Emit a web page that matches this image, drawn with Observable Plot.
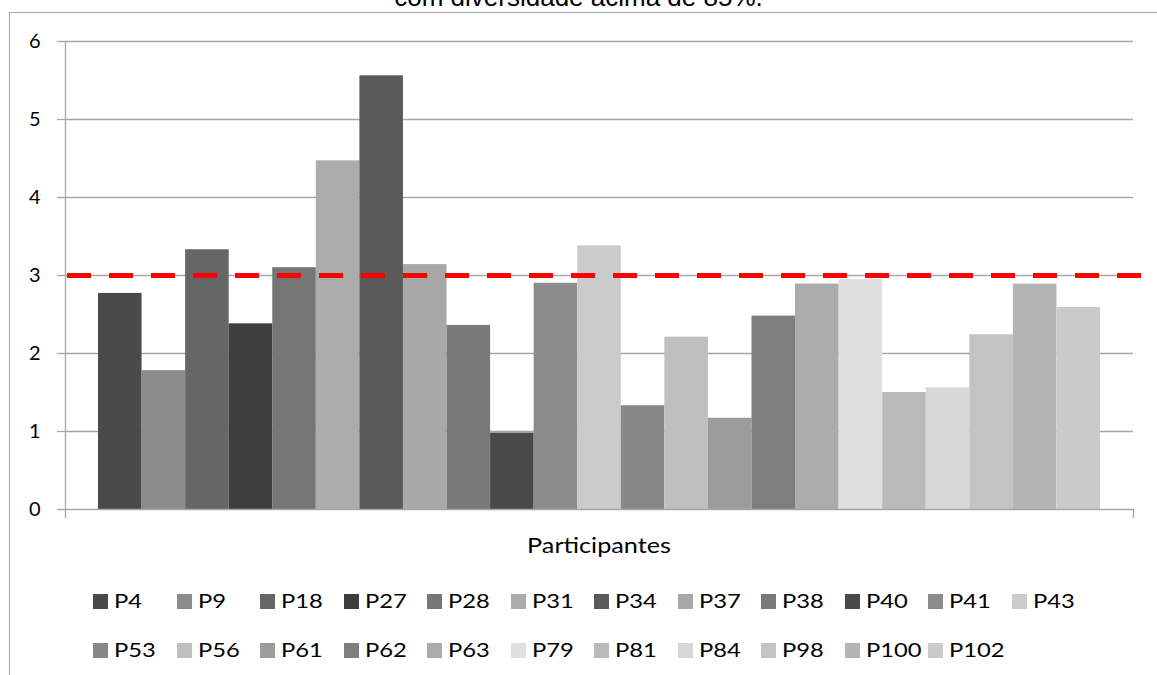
<!DOCTYPE html>
<html>
<head>
<meta charset="utf-8">
<script src="https://cdn.jsdelivr.net/npm/d3@7"></script>
<script src="https://cdn.jsdelivr.net/npm/@observablehq/plot@0.6"></script>
<style>
  html, body { margin: 0; padding: 0; background: #fff; }
  #wrap { position: relative; width: 1157px; height: 675px; overflow: hidden; font-family: Lato, "Open Sans", sans-serif; }
  #title { position: absolute; left: 0; width: 1157px; top: -18px; text-align: center; font-family: "Liberation Sans", Arial, sans-serif; font-size: 26px; line-height: 30px; color: #000; white-space: nowrap; }
  .bl { position: absolute; background: #a6a6a6; }
  #chart { position: absolute; left: 0; top: 0; }
  #xlabel { position: absolute; left: 599px; top: 533px; font-size: 21px; line-height: 24px; color: #000; white-space: nowrap; transform: translateX(-50%) scaleX(1.2); }
  .lrow { position: absolute; left: 93px; display: flex; }
  .litem { width: 83.5px; display: flex; align-items: center; font-size: 19px; line-height: 22px; color: #000; white-space: nowrap; }
  .litem .tx { display: inline-block; transform: scaleX(1.25); transform-origin: left center; }
  .sw { width: 15px; height: 15px; margin-right: 6px; flex: none; }
</style>
</head>
<body>
<div id="wrap">
  <div class="bl" style="left:9px; top:12px; width:1px; height:663px;"></div>
  <div class="bl" style="left:9px; top:12px; width:1148px; height:1px;"></div>
  <div id="title">com diversidade acima de 85%.</div>
  <div id="chart"></div>
  <div id="xlabel">Participantes</div>
  <div class="lrow" id="row1" style="top:590px;"></div>
  <div class="lrow" id="row2" style="top:639px;"></div>
</div>
<script>
const participants = ["P4","P9","P18","P27","P28","P31","P34","P37","P38","P40","P41","P43","P53","P56","P61","P62","P63","P79","P81","P84","P98","P100","P102"];
const values = [2.77, 1.78, 3.33, 2.38, 3.10, 4.47, 5.56, 3.14, 2.36, 0.98, 2.90, 3.38, 1.33, 2.21, 1.17, 2.48, 2.89, 2.95, 1.50, 1.56, 2.24, 2.89, 2.59];
const colors = ["#4a4a4a","#8c8c8c","#666666","#3d3d3d","#767676","#acacac","#5a5a5a","#a8a8a8","#7a7a7a","#494949","#8b8b8b","#cbcbcb","#888888","#bfbfbf","#9c9c9c","#7e7e7e","#ababab","#dfdfdf","#bababa","#d7d7d7","#c3c3c3","#b5b5b5","#cacaca"];
const yTicks = [0, 1, 2, 3, 4, 5, 6];
const threshold = [3];

const data = participants.map((p, i) => ({name: p, value: values[i], color: colors[i]}));
const gridColor = "#a6a6a6";

const chart = Plot.plot({
  width: 1157,
  height: 520,
  marginLeft: 65,
  marginRight: 24,
  marginTop: 41,
  marginBottom: 11,
  style: {fontFamily: "Lato, 'Open Sans', sans-serif", color: "#000", background: "transparent"},
  x: {domain: participants, padding: 0, round: false, insetLeft: 33, insetRight: 33, axis: null},
  y: {domain: [0, 6], axis: null},
  marks: [
    Plot.ruleY(yTicks.filter(d => d > 0), {stroke: gridColor, strokeWidth: 1.3}),
    Plot.barY(data, {x: "name", y: "value", fill: "color"}),
    Plot.frame({anchor: "bottom", stroke: gridColor, strokeWidth: 1.3}),
    Plot.frame({anchor: "left", stroke: gridColor, strokeWidth: 1.3, insetBottom: -8}),
    Plot.frame({anchor: "right", stroke: gridColor, strokeWidth: 1.3, insetTop: 468, insetBottom: -8}),
    Plot.axisY({ticks: yTicks, tickSize: 8, tickPadding: 17, fontSize: 20, stroke: gridColor, strokeWidth: 1.3, label: null, tickFormat: d => String(d)}),
    Plot.ruleY(threshold, {stroke: "#ff0000", strokeWidth: 5, strokeDasharray: "24,18", insetLeft: 2, insetRight: -10})
  ]
});
document.getElementById("chart").appendChild(chart);

const row1 = document.getElementById("row1");
const row2 = document.getElementById("row2");
participants.forEach((p, i) => {
  const item = document.createElement("div");
  item.className = "litem";
  const sw = document.createElement("span");
  sw.className = "sw";
  sw.style.background = colors[i];
  const t = document.createElement("span");
  t.className = "tx";
  t.textContent = p;
  item.appendChild(sw);
  item.appendChild(t);
  (i < 12 ? row1 : row2).appendChild(item);
});
</script>
</body>
</html>
